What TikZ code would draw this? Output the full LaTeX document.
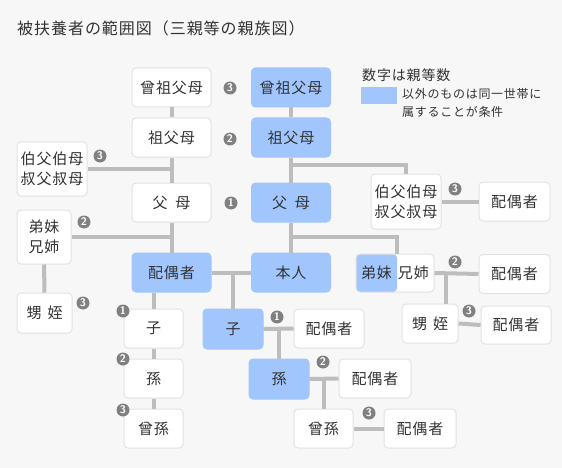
\documentclass[tikz,border=0pt]{standalone}
\usepackage{fontspec}
\newfontfamily\jp[LetterSpace=6]{Noto Sans CJK JP}
\usetikzlibrary{positioning}
\definecolor{bg}{HTML}{F7F7F7}
\definecolor{kinblue}{HTML}{A0C6FD}
\definecolor{edge}{HTML}{E2E2E2}
\definecolor{wire}{HTML}{BDBDBD}
\definecolor{badgegray}{HTML}{808080}
\definecolor{ink}{HTML}{333333}
\tikzset{
  box/.style={draw=edge, line width=1pt, fill=white, rounded corners=4pt, inner sep=0pt,
    text=ink, font=\jp\fontsize{15}{20}\selectfont, align=center,
    minimum width=79pt, minimum height=39pt},
  kin/.style={box, draw=kinblue, fill=kinblue},
  badge/.style={circle, fill=badgegray, text=white, inner sep=0pt, minimum size=13pt,
    font=\sffamily\bfseries\fontsize{11}{11}\selectfont},
  link/.style={draw=wire, line width=4pt}
}

\begin{document}
\begin{tikzpicture}[x=1pt,y=-1pt]
  \fill[bg] (0,0) rectangle (562,468);
  \useasboundingbox (0,0) rectangle (562,468);

  \node[anchor=west, inner sep=0pt, text=ink, font=\jp\fontsize{16}{16}\selectfont] (title) at (17,28) {被扶養者の範囲図（三親等の親族図）};

  \node[anchor=west, inner sep=0pt, text=ink, font=\jp\fontsize{14}{14}\selectfont] (keyhead) at (362,75) {数字は親等数};
  \node[fill=kinblue, inner sep=0pt, minimum width=36pt, minimum height=17pt] (keyswatch) at (379,95.5) {};
  \node[anchor=north west, inner sep=0pt, text=ink, align=left, font=\jp\fontsize{12}{18}\selectfont] (keytext) at (402,88) {以外のものは同一世帯に\\属することが条件};

  \node[box] (sosoW) at (171.5,87.5) {曾祖父母};
  \node[kin] (sosoB) at (291,87.5) {曾祖父母};
  \node[box] (sofuW) at (171.5,137.5) {祖父母};
  \node[kin] (sofuB) at (291,137.5) {祖父母};
  \node[box, minimum width=70pt, minimum height=54pt] (ojiL) at (52,169) {伯父伯母\\叔父叔母};
  \node[box] (fuboW) at (171.5,202.5) {父\hspace{8pt}母};
  \node[kin] (fuboB) at (291,202.5) {父\hspace{8pt}母};
  \node[box, minimum width=70pt, minimum height=55pt] (ojiR) at (406,201.5) {伯父伯母\\叔父叔母};
  \node[box, minimum width=71pt] (ojiRsp) at (514.5,201.5) {配偶者};
  \node[box, minimum width=54pt, minimum height=54pt] (kyoL) at (44,237) {弟妹\\兄姉};
  \node[kin] (haiB) at (171.5,272.5) {配偶者};
  \node[kin] (honnin) at (291,272.5) {本人};
  \node[box, minimum width=78pt, minimum height=38pt,
    path picture={\fill[kinblue] (path picture bounding box.south west) rectangle ([xshift=41pt]path picture bounding box.north west);}] (kyoR) at (395,273) {弟妹\hspace{6pt}兄姉};
  \node[box, minimum width=71pt] (kyoRsp) at (514.5,274) {配偶者};
  \node[box, minimum width=55pt, minimum height=40pt] (oiL) at (44.5,313) {甥\hspace{6pt}姪};
  \node[box, minimum width=56pt] (oiR) at (430,323.5) {甥\hspace{6pt}姪};
  \node[box, minimum width=70pt, minimum height=38pt] (oiRsp) at (516,325) {配偶者};
  \node[box, minimum width=59pt] (koW) at (153.5,328.5) {子};
  \node[box, minimum width=59pt] (magoW) at (153.5,378.5) {孫};
  \node[box, minimum width=59pt] (himagoW) at (153.5,428.5) {曾孫};
  \node[kin, minimum width=60pt, minimum height=40pt] (koB) at (233,329) {子};
  \node[box, minimum width=70pt] (koBsp) at (329,328.5) {配偶者};
  \node[kin, minimum width=60pt, minimum height=40pt] (magoB) at (279,379) {孫};
  \node[box, minimum width=72pt] (magoBsp) at (375,378.5) {配偶者};
  \node[box, minimum width=59pt] (himagoB) at (323.5,428.5) {曾孫};
  \node[box, minimum width=72pt] (himagoBsp) at (420,428.5) {配偶者};

  \draw[link] (sosoW.south) -- (sofuW.north);
  \draw[link] (sosoB.south) -- (sofuB.north);
  \draw[link] (sofuW.south) -- (fuboW.north);
  \draw[link] (ojiL.east) -- (ojiL.east -| sofuW.south);
  \draw[link] (sofuB.south) -- (fuboB.north);
  \draw[link] (sofuB.south |- 0,165) -| (ojiR.north);
  \draw[link] (ojiR.east) -- (ojiRsp.west);
  \draw[link] (fuboW.south) -- (haiB.north);
  \draw[link] (kyoL.east) -- (kyoL.east -| fuboW.south);
  \draw[link] (kyoL.south) -- (oiL.north);
  \draw[link] (fuboB.south) -- (honnin.north);
  \draw[link] (fuboB.south |- 0,237) -| ([xshift=2pt]kyoR.north);
  \draw[link] (haiB.east) -- (honnin.west);
  \draw[link] (haiB.east -| koB.north) -- (koB.north);
  \draw[link] (koW.north |- haiB.south) -- (koW.north);
  \draw[link] (koW.south) -- (magoW.north);
  \draw[link] (magoW.south) -- (himagoW.north);
  \draw[link] (kyoR.east) -- (kyoRsp.west);
  \draw[link] ([xshift=16pt]oiR.north |- kyoR.east) -- ([xshift=16pt]oiR.north);
  \draw[link] (oiR.east) -- (oiRsp.west);
  \draw[link] (koB.east) -- (koBsp.west);
  \draw[link] (magoB.north |- koB.east) -- (magoB.north);
  \draw[link] (magoB.east) -- (magoBsp.west);
  \draw[link] (himagoB.north |- magoB.east) -- (himagoB.north);
  \draw[link] (himagoB.east) -- (himagoBsp.west);

  \foreach \bx/\by/\bn [count=\bi] in {230/88/3, 230/139/2, 231/203/1, 100/156/3, 84/222/2,
      83/303/3, 455/189/3, 455/262/2, 469/311/3, 123/311/1, 123/359/2, 123/410/3,
      277/317/1, 323/362/2, 369/413/3}
    \node[badge] (badge\bi) at (\bx,\by) {\bn};
\end{tikzpicture}
\end{document}
